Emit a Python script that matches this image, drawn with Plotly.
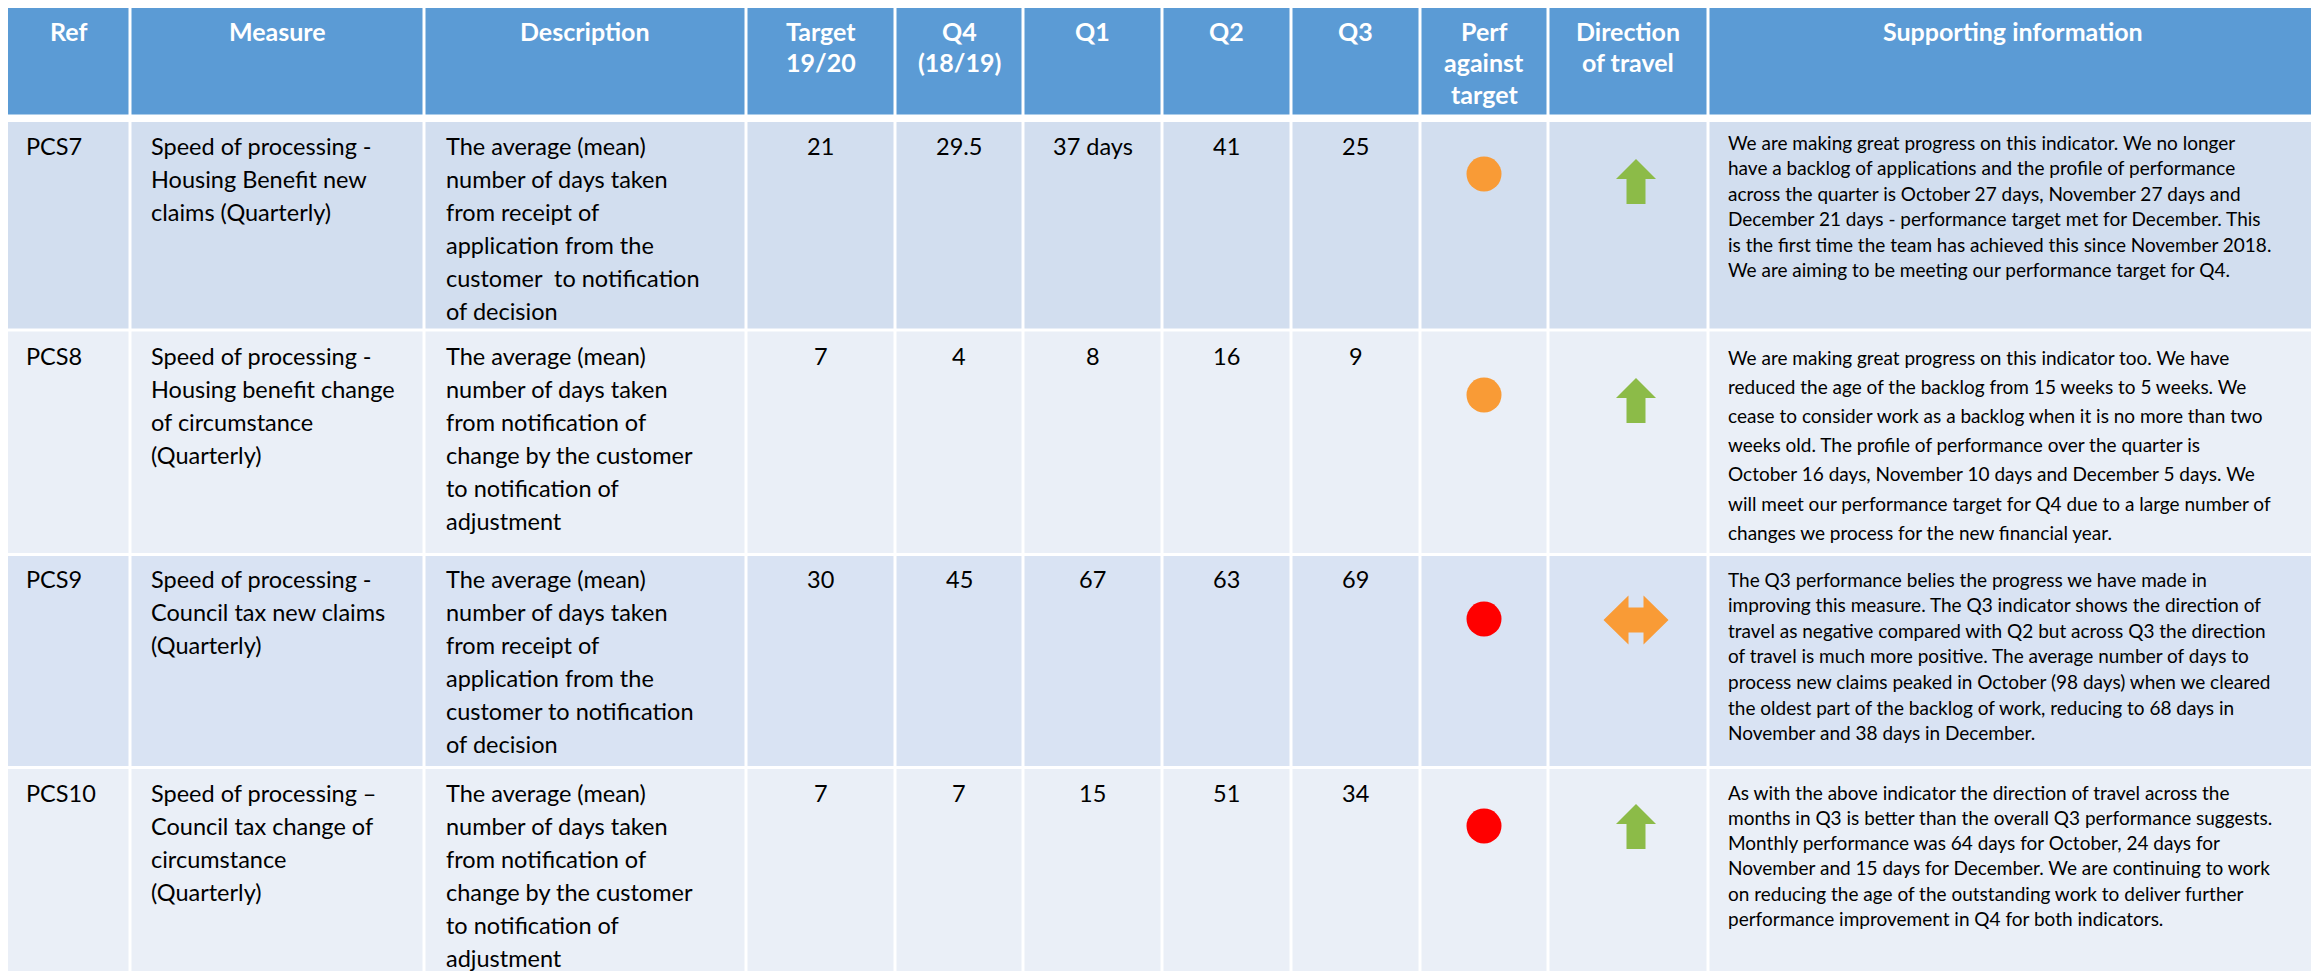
import plotly.graph_objects as go

# ---------------- data ----------------
headers = ["Ref", "Measure", "Description", "Target<br>19/20", "Q4<br>(18/19)", "Q1", "Q2", "Q3",
           "Perf<br>against<br>target", "Direction<br>of travel", "Supporting information"]

refs = ["PCS7", "PCS8", "PCS9", "PCS10"]

measures = [
    ["Speed of processing -", "Housing Benefit new", "claims (Quarterly)"],
    ["Speed of processing -", "Housing benefit change", "of circumstance", "(Quarterly)"],
    ["Speed of processing -", "Council tax new claims", "(Quarterly)"],
    ["Speed of processing \u2013", "Council tax change of", "circumstance", "(Quarterly)"],
]

descriptions = [
    ["The average (mean)", "number of days taken", "from receipt of", "application from the",
     "customer  to notification", "of decision"],
    ["The average (mean)", "number of days taken", "from notification of", "change by the customer",
     "to notification of", "adjustment"],
    ["The average (mean)", "number of days taken", "from receipt of", "application from the",
     "customer to notification", "of decision"],
    ["The average (mean)", "number of days taken", "from notification of", "change by the customer",
     "to notification of", "adjustment"],
]

target_1920 = ["21", "7", "30", "7"]
q4_1819 = ["29.5", "4", "45", "7"]
q1 = ["37 days", "8", "67", "15"]
q2 = ["41", "16", "63", "51"]
q3 = ["25", "9", "69", "34"]

perf_status = ["amber", "amber", "red", "red"]
direction = ["up", "up", "sideways", "up"]

supporting = [
    ["We are making great progress on this indicator. We no longer",
     "have a backlog of applications and the profile of performance",
     "across the quarter is October 27 days, November 27 days and",
     "December 21 days - performance target met for December. This",
     "is the first time the team has achieved this since November 2018.",
     "We are aiming to be meeting our performance target for Q4."],
    ["We are making great progress on this indicator too. We have",
     "reduced the age of the backlog from 15 weeks to 5 weeks. We",
     "cease to consider work as a backlog when it is no more than two",
     "weeks old. The profile of performance over the quarter is",
     "October 16 days, November 10 days and December 5 days. We",
     "will meet our performance target for Q4 due to a large number of",
     "changes we process for the new financial year."],
    ["The Q3 performance belies the progress we have made in",
     "improving this measure. The Q3 indicator shows the direction of",
     "travel as negative compared with Q2 but across Q3 the direction",
     "of travel is much more positive. The average number of days to",
     "process new claims peaked in October (98 days) when we cleared",
     "the oldest part of the backlog of work, reducing to 68 days in",
     "November and 38 days in December."],
    ["As with the above indicator the direction of travel across the",
     "months in Q3 is better than the overall Q3 performance suggests.",
     "Monthly performance was 64 days for October, 24 days for",
     "November and 15 days for December. We are continuing to work",
     "on reducing the age of the outstanding work to deliver further",
     "performance improvement in Q4 for both indicators."],
]

# ---------------- layout / style ----------------
W, H = 2319, 971
OFF = 8  # default browser body margin around the plot div
FONT = "Lato, 'Open Sans', sans-serif"
col_edges = [6, 130, 424, 746, 895, 1023, 1162, 1291, 1420, 1548, 1708, 2317]
header_band = (5, 114.5)
row_bands = [(122, 328.5), (331.5, 553), (556, 766), (769, 980)]
row_colors = ["#D2DEEF", "#EAEFF7", "#D9E3F3", "#EAEFF7"]
header_color = "#5B9BD5"
status_colors = {"amber": "#F99B36", "red": "#FF0000"}
dir_colors = {"up": "#8CBB48", "sideways": "#F99B36"}
text_first = [146, 356, 579, 793]
supp_first = [142, 357, 579, 792]
supp_spacing = [25.5, 29.2, 25.6, 25.3]
left_spacing = 33.0
BODY_SIZE = 23.5
SUPP_SIZE = 19
HEAD_SIZE = 25
GAP = 1.5

fig = go.Figure()
shapes = []
annotations = []

def cell(x0, x1, y0, y1, color):
    shapes.append(dict(type="rect", xref="x", yref="y", x0=x0 + GAP, x1=x1 - GAP, y0=y0, y1=y1,
                       fillcolor=color, line=dict(width=0), layer="below"))

def label(x, y, text, anchor, size, color="black"):
    annotations.append(dict(x=x, y=y, xref="x", yref="y", text=text, showarrow=False,
                            xanchor=anchor, yanchor="middle", borderpad=0,
                            font=dict(family=FONT, size=size, color=color)))

# header
for i, h in enumerate(headers):
    cell(col_edges[i], col_edges[i + 1], header_band[0], header_band[1], header_color)
    for k, ln in enumerate(h.split("<br>")):
        label((col_edges[i] + col_edges[i + 1]) / 2, 30.5 + k * 31.5, "<b>" + ln + "</b>",
              "center", HEAD_SIZE, "white")

# body rows
numeric_cols = [target_1920, q4_1819, q1, q2, q3]
for r in range(len(refs)):
    y0, y1 = row_bands[r]
    for i in range(len(headers)):
        cell(col_edges[i], col_edges[i + 1], y0, y1, row_colors[r])
    ty = text_first[r]
    label(col_edges[0] + 19, ty, refs[r], "left", BODY_SIZE)
    for k, ln in enumerate(measures[r]):
        label(col_edges[1] + 20, ty + k * left_spacing, ln, "left", BODY_SIZE)
    for k, ln in enumerate(descriptions[r]):
        label(col_edges[2] + 21, ty + k * left_spacing, ln, "left", BODY_SIZE)
    for c, arr in enumerate(numeric_cols):
        label((col_edges[3 + c] + col_edges[4 + c]) / 2, ty, arr[r], "center", BODY_SIZE)
    for k, ln in enumerate(supporting[r]):
        label(col_edges[10] + 19, supp_first[r] + k * supp_spacing[r], ln, "left", SUPP_SIZE)

# performance circles
perf_x = (col_edges[8] + col_edges[9]) / 2
circle_y = [174, 395, 619, 826]
fig.add_trace(go.Scatter(
    x=[perf_x] * len(refs), y=circle_y, mode="markers",
    marker=dict(size=35, color=[status_colors[s] for s in perf_status], line=dict(width=0)),
    hoverinfo="skip", showlegend=False))

# direction arrows
dir_x = 1636
arrow_y = [181.5, 400.5, 620, 826.5]
up_shape = [(0, -22.5), (20, -2.5), (9.5, -2.5), (9.5, 22.5), (-9.5, 22.5), (-9.5, -2.5), (-20, -2.5), (0, -22.5)]
lr_shape = [(-32.5, 0), (-7.5, -24.5), (-7.5, -12.5), (7.5, -12.5), (7.5, -24.5), (32.5, 0),
            (7.5, 24.5), (7.5, 12.5), (-7.5, 12.5), (-7.5, 24.5), (-32.5, 0)]
for r, d in enumerate(direction):
    shp = up_shape if d == "up" else lr_shape
    fig.add_trace(go.Scatter(
        x=[dir_x + p[0] for p in shp], y=[arrow_y[r] + p[1] for p in shp],
        mode="lines", fill="toself", fillcolor=dir_colors[d], line=dict(width=0, color=dir_colors[d]),
        hoverinfo="skip", showlegend=False))

fig.update_layout(
    width=W - OFF, height=H - OFF, autosize=False,
    margin=dict(l=0, r=0, t=0, b=0, pad=0),
    paper_bgcolor="white", plot_bgcolor="white",
    xaxis=dict(range=[OFF, W], visible=False, fixedrange=True),
    yaxis=dict(range=[H, OFF], visible=False, fixedrange=True),
    shapes=shapes, annotations=annotations, showlegend=False,
)

fig.write_html("out.html", config={"displayModeBar": False})
